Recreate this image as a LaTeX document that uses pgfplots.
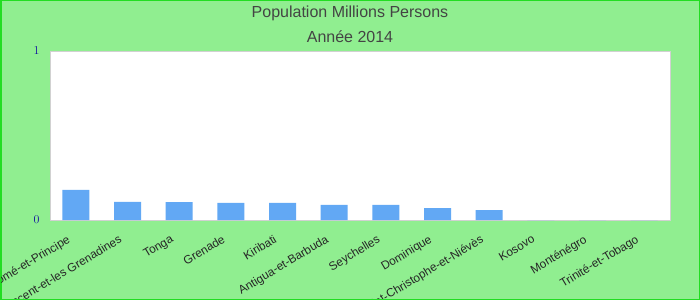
\documentclass[border=0pt]{standalone}
\usepackage{fontspec}
\setmainfont{Liberation Sans}
\usepackage{pgfplots}
\pgfplotsset{compat=1.18}
\definecolor{bgc}{HTML}{90EE90}
\definecolor{frame}{HTML}{22DD22}
\definecolor{barc}{HTML}{62A8F4}
\definecolor{titc}{HTML}{444444}
\definecolor{tickc}{HTML}{1010A0}
\begin{document}
\begin{tikzpicture}[x=1pt,y=1pt]
\fill[bgc] (0,0) rectangle (700,300);
\draw[frame, line width=1.5pt] (0.75,0.75) rectangle (699.25,299.25);
\useasboundingbox (0,0) rectangle (700,300);
\begin{scope}
\clip (1.5,1.5) rectangle (698.5,298.5);
\node[font=\fontsize{16}{18}\selectfont, text=titc] at (350,286.5) {Population Millions Persons};
\node[font=\fontsize{16}{18}\selectfont, text=titc] at (350,263.5) {Année 2014};
\begin{axis}[
  at={(50pt,80pt)}, anchor=south west,
  width=620pt, height=169pt, scale only axis,
  axis background/.style={fill=white},
  axis line style={draw=black!18, line width=1pt},
  xmin=-0.5, xmax=11.5, ymin=0, ymax=1,
  ytick={0,1}, xtick={0,...,11},
  major tick length=0pt,
  yticklabel style={text=tickc, font=\fontsize{12}{13}\selectfont, xshift=-7pt},
  xticklabels={Sao Tomé-et-Principe,Saint-Vincent-et-les Grenadines,Tonga,Grenade,Kiribati,Antigua-et-Barbuda,Seychelles,Dominique,Saint-Christophe-et-Niévès,Kosovo,Monténégro,Trinité-et-Tobago},
  xticklabel style={rotate=31, anchor=north east, font=\fontsize{11.8}{12}\selectfont, text=black!85, xshift=-12pt, yshift=-4pt},
  ybar, bar width=27pt,
]
\addplot[fill=barc, draw=none] coordinates {
(0,0.178) (1,0.107) (2,0.106) (3,0.101) (4,0.101) (5,0.089) (6,0.089) (7,0.071) (8,0.059) (9,0) (10,0) (11,0)};
\end{axis}
\end{scope}
\end{tikzpicture}
\end{document}
